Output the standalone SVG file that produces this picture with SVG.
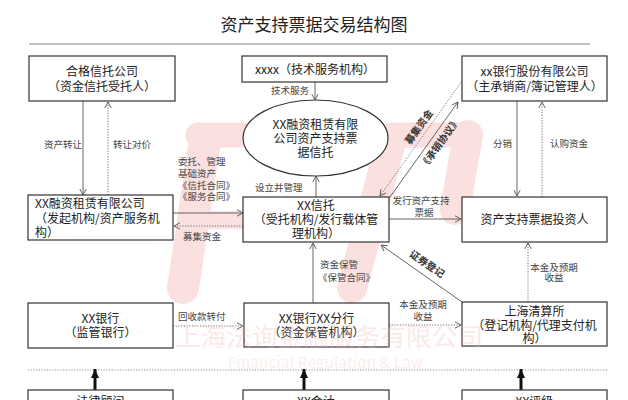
<svg xmlns="http://www.w3.org/2000/svg" width="628" height="400" viewBox="0 0 628 400">
<defs>
<style>
text{font-family:"Noto Sans CJK SC","Noto Sans",sans-serif;fill:#222}
.box{fill:#fff;stroke:#333;stroke-width:1.2}
.bt{font-size:12px;text-anchor:middle}
.bl{font-size:12px;text-anchor:start}
.lb{font-size:9.5px;fill:#444}
.lbb{font-size:10px;fill:#333;font-weight:bold;text-anchor:middle}
.ln{fill:none;stroke:#555;stroke-width:0.9;marker-end:url(#ah)}
.dt{fill:none;stroke:#666;stroke-width:0.9;stroke-dasharray:1.2 1.5;marker-end:url(#ah)}
.wm{fill:none;stroke:#fbe0e0;stroke-linecap:round;stroke-linejoin:round}
</style>
<marker id="ah" viewBox="0 0 8 8" refX="7" refY="4" markerWidth="8" markerHeight="8" markerUnits="userSpaceOnUse" orient="auto">
<path d="M1,0.8 L7,4 L1,7.2" fill="none" stroke="#555" stroke-width="0.9"/>
</marker>
<marker id="bh" viewBox="0 0 10 8" refX="9" refY="4" markerWidth="10" markerHeight="8" markerUnits="userSpaceOnUse" orient="auto">
<path d="M0,0 L9,4 L0,8 Z" fill="#111"/>
</marker>
</defs>
<rect width="628" height="400" fill="#fff"/>
<g id="watermark-logo" class="wm">
<path d="M198,135 L298,135" stroke-width="25"/>
<path d="M205,140 L183,288" stroke-width="32"/>
<path d="M200,220 L250,220" stroke-width="18"/>
<path d="M392,138 L352,288" stroke-width="30"/>
<path d="M392,135 L470,135" stroke-width="25"/>
<path d="M468,135 L455,210" stroke-width="30"/>
</g>
<text x="314" y="31" style="font-size:17px;text-anchor:middle;fill:#222">资产支持票据交易结构图</text>
<line x1="29" y1="44" x2="590" y2="44" stroke="#aaa" stroke-width="1.5"/>
<g id="connectors">
<line class="ln" x1="315" y1="82" x2="315" y2="100"/>
<text class="lb" x="309" y="94" text-anchor="end">技术服务</text>
<line class="ln" x1="83" y1="101" x2="83" y2="195"/>
<text class="lb" x="82" y="148" text-anchor="end">资产转让</text>
<line class="dt" x1="108" y1="195" x2="108" y2="102"/>
<text class="lb" x="113" y="148">转让对价</text>
<line class="ln" x1="173" y1="213" x2="243" y2="213"/>
<text class="lb" x="178" y="165">委托、管理</text>
<text class="lb" x="178" y="177">基础资产</text>
<text class="lb" x="178" y="188.5">《信托合同》</text>
<text class="lb" x="178" y="200">《服务合同》</text>
<line class="dt" x1="243" y1="226" x2="174" y2="226"/>
<text class="lb" x="183" y="240">募集资金</text>
<line class="ln" x1="316" y1="197" x2="316" y2="176"/>
<text class="lb" x="255" y="190.5">设立并管理</text>
<line class="dt" x1="462" y1="81" x2="380" y2="196"/>
<text class="lbb" transform="translate(419,127) rotate(-54.4)" y="3.5">募集资金</text>
<line class="ln" x1="390" y1="197" x2="458" y2="102"/>
<text class="lbb" transform="translate(440,143) rotate(-54.4)" y="3.5">《承销协议》</text>
<line class="ln" x1="517" y1="101" x2="517" y2="196"/>
<text class="lb" x="512" y="147" text-anchor="end">分销</text>
<line class="dt" x1="542" y1="197" x2="542" y2="102"/>
<text class="lb" x="550" y="147">认购资金</text>
<line class="ln" x1="389" y1="219" x2="461" y2="219"/>
<text class="lb" x="421" y="203.5" text-anchor="middle">发行资产支持</text>
<text class="lb" x="424" y="216" text-anchor="middle">票据</text>
<line class="ln" x1="462" y1="302" x2="381" y2="245"/>
<text class="lbb" transform="translate(427,264) rotate(34.8)" y="3.5">证券登记</text>
<line class="dt" x1="528" y1="302" x2="528" y2="243"/>
<text class="lb" x="554" y="270.5" text-anchor="middle">本金及预期</text>
<text class="lb" x="554" y="281" text-anchor="middle">收益</text>
<line class="ln" x1="313" y1="303" x2="313" y2="243"/>
<text class="lb" x="320" y="267.5">资金保管</text>
<text class="lb" x="318" y="280.5">《保管合同》</text>
<line class="dt" x1="173" y1="326" x2="243" y2="326"/>
<text class="lb" x="178" y="319.5">回收款转付</text>
<line class="dt" x1="389" y1="325" x2="461" y2="325"/>
<text class="lb" x="423" y="307.5" text-anchor="middle">本金及预期</text>
<text class="lb" x="423" y="319.5" text-anchor="middle">收益</text>
<line x1="28" y1="370" x2="607" y2="370" stroke="#888" stroke-width="0.9" stroke-dasharray="1.2 1.5"/>
<line x1="95" y1="391" x2="95" y2="369" stroke="#111" stroke-width="3" marker-end="url(#bh)"/>
<line x1="304" y1="391" x2="304" y2="369" stroke="#111" stroke-width="3" marker-end="url(#bh)"/>
<line x1="521" y1="391" x2="521" y2="369" stroke="#111" stroke-width="3" marker-end="url(#bh)"/>
</g>
<g id="n-trustco">
<rect class="box" x="29" y="56" width="146" height="45"/>
<text class="bt" x="102" y="76">合格信托公司</text>
<text class="bt" x="102" y="90.5">（资金信托受托人）</text>
</g>
<g id="n-tech">
<rect class="box" x="242" y="56" width="145" height="26"/>
<text class="bt" x="315" y="74">xxxx（技术服务机构）</text>
</g>
<g id="n-underwriter">
<rect class="box" x="462" y="56" width="145" height="45"/>
<text class="bt" x="534.5" y="76">xx银行股份有限公司</text>
<text class="bt" x="534.5" y="90.5">（主承销商/簿记管理人）</text>
</g>
<g id="n-trustplan">
<ellipse cx="315.5" cy="138" rx="72.5" ry="38" fill="#fff" stroke="#333" stroke-width="1.2"/>
<text class="bt" x="315.5" y="129">XX融资租赁有限</text>
<text class="bt" x="315.5" y="143">公司资产支持票</text>
<text class="bt" x="315.5" y="157">据信托</text>
</g>
<g id="n-lessor">
<rect class="box" x="28" y="195" width="145" height="45"/>
<text class="bl" x="35" y="208">XX融资租赁有限公司</text>
<text class="bl" x="35" y="223">（发起机构/资产服务机</text>
<text class="bl" x="35" y="237">构）</text>
</g>
<g id="n-trust">
<rect class="box" x="243" y="197" width="146" height="45"/>
<text class="bt" x="316" y="210">XX信托</text>
<text class="bt" x="316" y="224">（受托机构/发行载体管</text>
<text class="bt" x="316" y="238">理机构）</text>
</g>
<g id="n-investor">
<rect class="box" x="462" y="197" width="145" height="45"/>
<text class="bt" x="534.5" y="224">资产支持票据投资人</text>
</g>
<g id="n-supervisor">
<rect class="box" x="28" y="303" width="145" height="45"/>
<text class="bt" x="100.5" y="323">XX银行</text>
<text class="bt" x="100.5" y="337">（监管银行）</text>
</g>
<g id="n-custodian">
<rect class="box" x="244" y="303" width="145" height="44"/>
<text class="bt" x="316.5" y="323">XX银行XX分行</text>
<text class="bt" x="316.5" y="337">（资金保管机构）</text>
</g>
<g id="n-shclear">
<rect class="box" x="462" y="302" width="145" height="44"/>
<text class="bt" x="534.5" y="316">上海清算所</text>
<text class="bt" x="534.5" y="329.5">（登记机构/代理支付机</text>
<text class="bt" x="534.5" y="343">构）</text>
</g>
<g id="n-legal">
<rect class="box" x="28" y="390" width="145" height="40"/>
<text class="bt" x="100.5" y="406">法律顾问</text>
</g>
<g id="n-account">
<rect class="box" x="243" y="390" width="146" height="40"/>
<text class="bt" x="316" y="406">XX会计</text>
</g>
<g id="n-rating">
<rect class="box" x="462" y="390" width="145" height="40"/>
<text class="bt" x="534.5" y="406">XX评级</text>
</g>
<g id="watermark-text" opacity="0.3">
<text x="175" y="346" textLength="308" style="font-size:25.5px;fill:#f0b8b8">上海法询金融服务有限公司</text>
<text x="228" y="368" textLength="195" style="font-size:15px;fill:#f0c8c8">Financial Regulation &amp; Law</text>
</g>
</svg>
